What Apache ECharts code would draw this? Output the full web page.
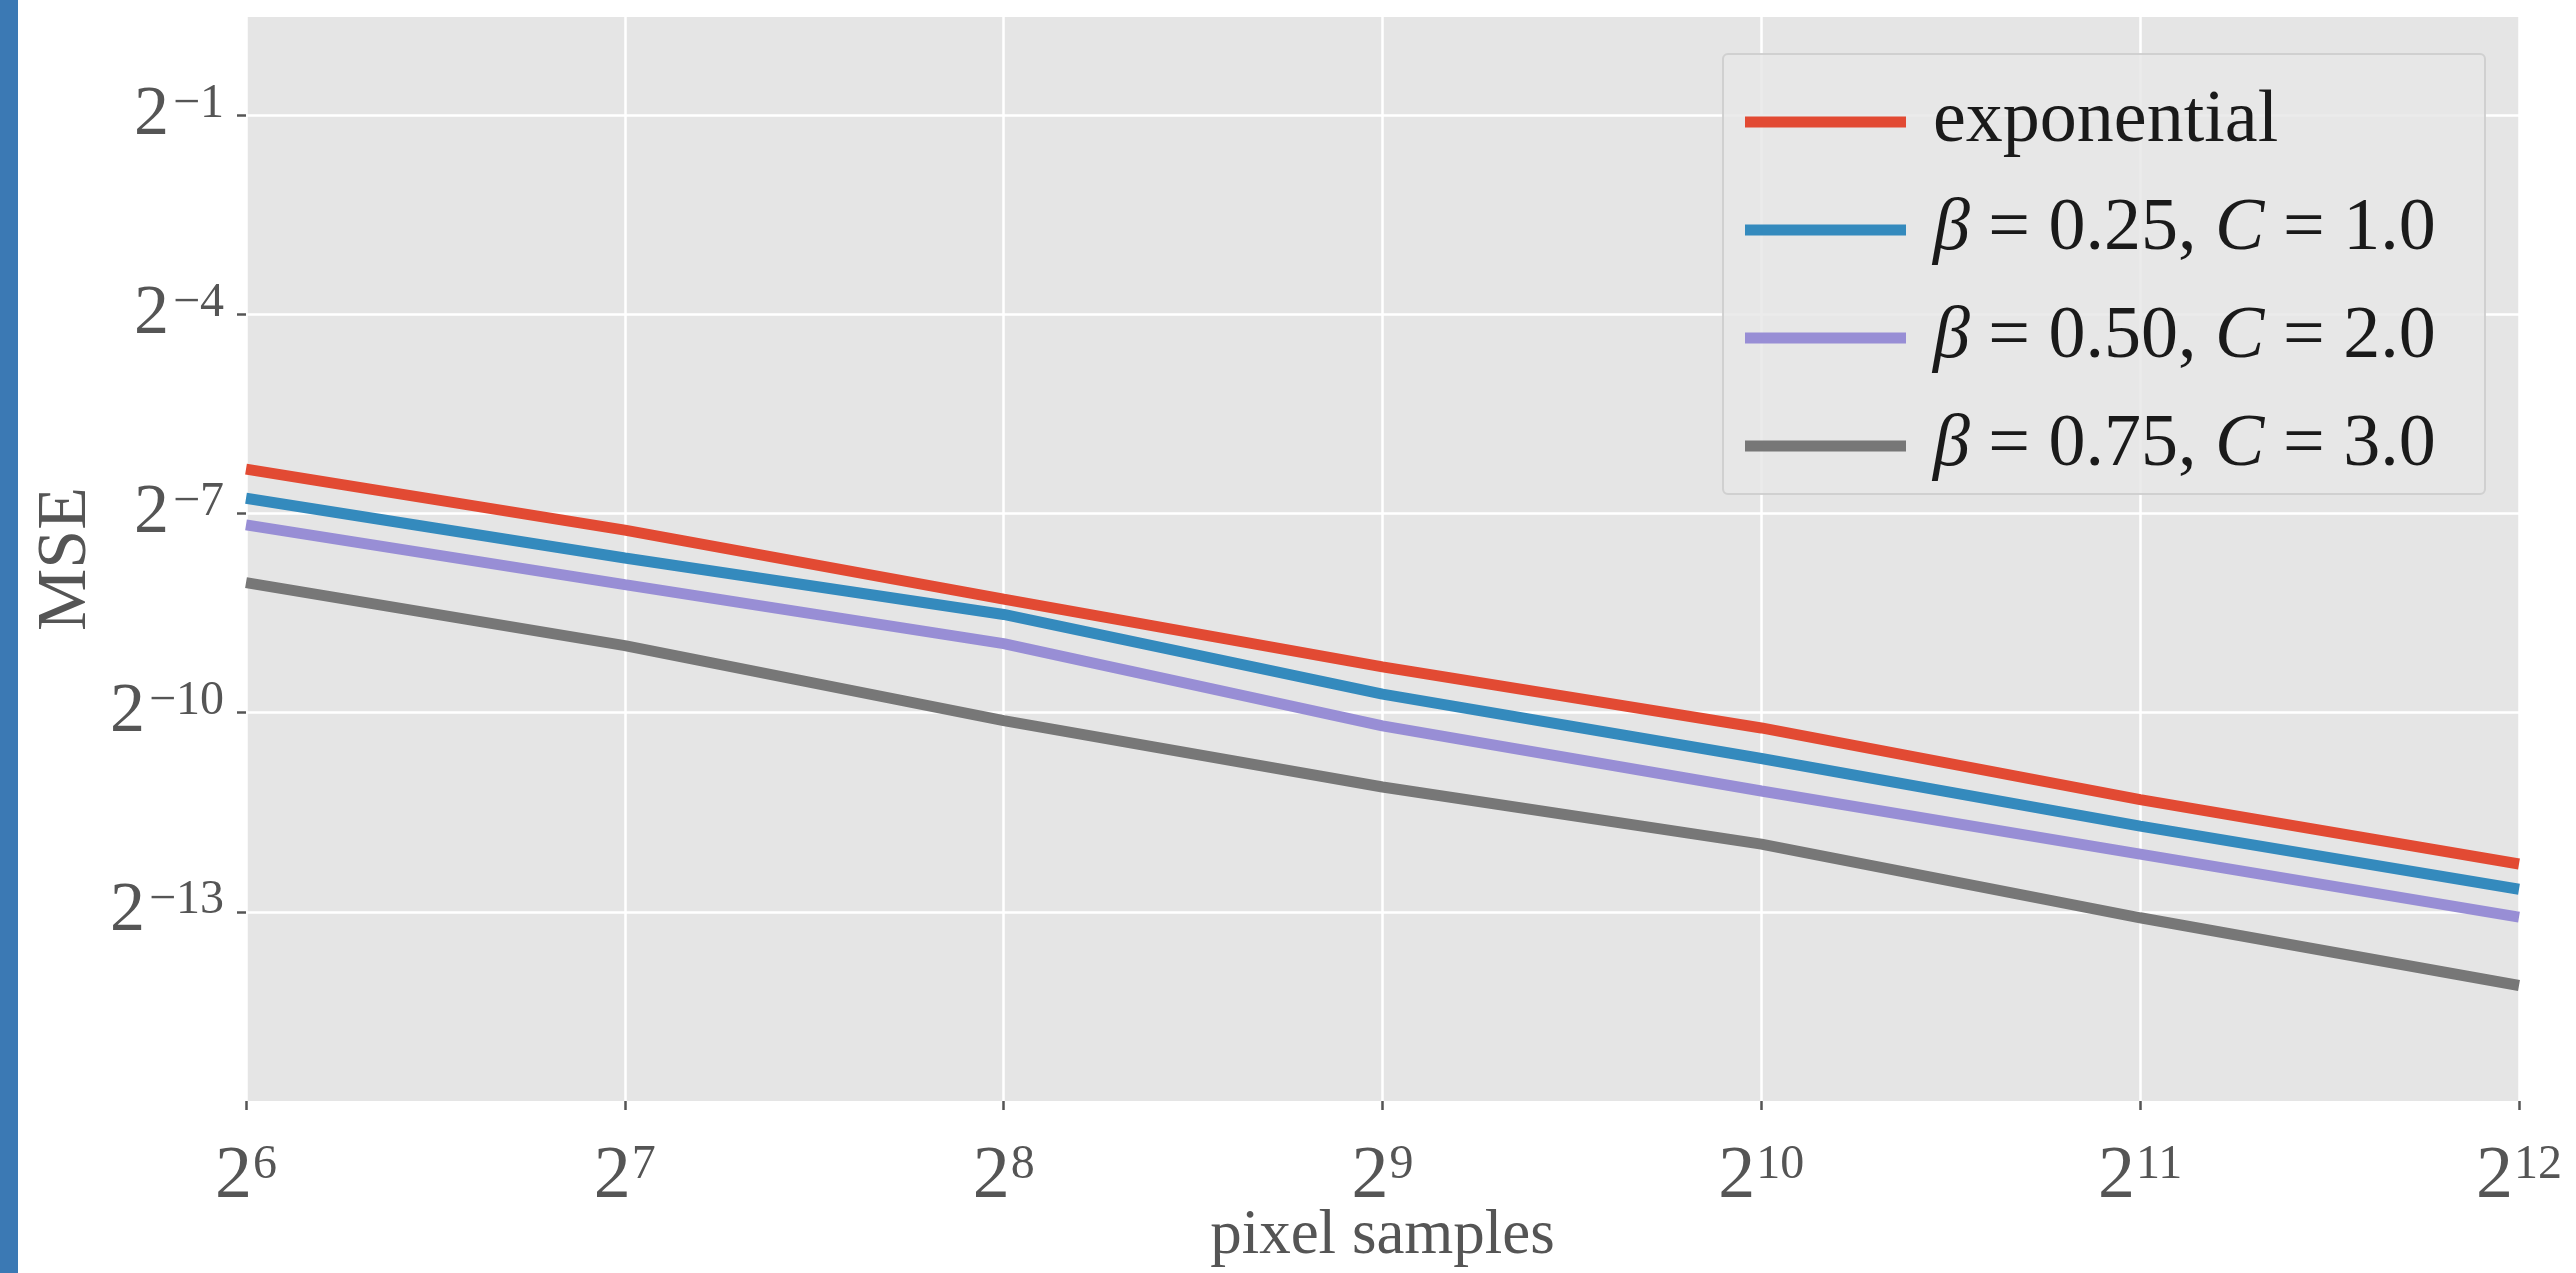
<!DOCTYPE html>
<html>
<head>
<meta charset="utf-8">
<style>
html,body{margin:0;padding:0;background:#ffffff;}
#chart{width:2576px;height:1273px;}
</style>
<script src="https://cdn.jsdelivr.net/npm/echarts@6/dist/echarts.min.js"></script>
</head>
<body>
<div id="chart"></div>
<script>
// ---- data ----
const pixelSamples = [64, 128, 256, 512, 1024, 2048, 4096];
const seriesNames = ['exponential', 'β = 0.25, C = 1.0', 'β = 0.50, C = 2.0', 'β = 0.75, C = 3.0'];
const mseExponential = [0.012430, 0.006570, 0.003195, 0.0015754, 0.0008326, 0.0003939, 0.0002011];
const mseBeta025 = [0.009163, 0.004910, 0.002723, 0.0011857, 0.0006054, 0.0002985, 0.0001545];
const mseBeta050 = [0.006944, 0.003721, 0.002008, 0.0008502, 0.0004310, 0.0002231, 0.0001155];
const mseBeta075 = [0.003800, 0.001967, 0.0008986, 0.0004493, 0.0002476, 0.0001147, 0.00005655];
const xTickExponents = [6, 7, 8, 9, 10, 11, 12];
const yTickExponents = [-13, -10, -7, -4, -1];
const xAxisTitle = 'pixel samples';
const yAxisTitle = 'MSE';

const colors = ['#E24A33', '#348ABD', '#988ED5', '#777777'];
const FONT = "'Liberation Serif', 'DejaVu Serif', serif";
const LABEL = '#555555';

function sup(v) {
  const s = v < 0 ? '\u2212' + Math.abs(v) : String(v);
  return '{b|2}{s|' + s + '}';
}
const richY = {
  b: { fontFamily: FONT, fontSize: 70, color: LABEL, verticalAlign: 'bottom', lineHeight: 70 },
  s: { fontFamily: FONT, fontSize: 48, color: LABEL, verticalAlign: 'top', lineHeight: 48, padding: [0, 0, 30, 4] }
};
const richX = {
  b: { fontFamily: FONT, fontSize: 74, color: LABEL, verticalAlign: 'bottom', lineHeight: 74 },
  s: { fontFamily: FONT, fontSize: 48, color: LABEL, verticalAlign: 'top', lineHeight: 48, padding: [0, 0, 32, 1] }
};

const allSeries = [mseExponential, mseBeta025, mseBeta050, mseBeta075];
const series = allSeries.map((vals, i) => ({
  name: seriesNames[i],
  type: 'line',
  data: pixelSamples.map((x, j) => [Math.log2(x), Math.log2(vals[j])]),
  symbol: 'none',
  lineStyle: { color: colors[i], width: 11, cap: 'butt' },
  itemStyle: { color: colors[i] },
  z: 3,
  animation: false
}));

const chart = echarts.init(document.getElementById('chart'), null, { renderer: 'canvas' });
chart.setOption({
  backgroundColor: '#ffffff',
  animation: false,
  color: colors,
  grid: {
    left: 246, right: 57, top: 17, bottom: 172,
    show: true, backgroundColor: '#e5e5e5', borderWidth: 0, containLabel: false,
    outerBoundsMode: 'none'
  },
  graphic: [
    { type: 'rect', left: 0, top: 0, shape: { width: 18, height: 1273 }, style: { fill: '#3b79b4' }, z: 0 },
    { type: 'rect', left: 1722, top: 53, shape: { width: 762, height: 440, r: 5 },
      style: { fill: 'rgba(232,232,232,0.85)', stroke: 'rgba(205,205,205,0.9)', lineWidth: 2 }, z: 50 }
  ],
  legend: {
    data: seriesNames,
    orient: 'vertical',
    left: 1740, top: 80,
    itemWidth: 161, itemHeight: 11, itemGap: 34,
    icon: 'rect',
    z: 60,
    textStyle: {
      fontFamily: FONT, fontSize: 74, color: '#1a1a1a', lineHeight: 70, padding: [0, 0, 0, 22],
      rich: {
        n: { fontFamily: FONT, fontSize: 74, color: '#1a1a1a', lineHeight: 70 },
        i: { fontFamily: FONT, fontSize: 74, fontStyle: 'italic', color: '#1a1a1a', lineHeight: 70 }
      }
    },
    formatter: function (name) {
      if (name.indexOf('β') === 0) {
        const parts = name.split(', C');
        return '{i|β}{n|' + parts[0].slice(1) + ', }{i|C}{n|' + parts[1] + '}';
      }
      return '{n|' + name + '}';
    }
  },
  xAxis: {
    type: 'value',
    min: 6, max: 12, interval: 1,
    name: xAxisTitle, nameLocation: 'middle', nameGap: 104, nameMoveOverlap: false,
    nameTextStyle: { fontFamily: FONT, fontSize: 63, color: LABEL },
    axisLine: { show: false, onZero: false },
    axisTick: { show: true, length: 9, lineStyle: { color: LABEL, width: 2.5 } },
    axisLabel: { margin: 40, formatter: v => sup(v), rich: richX },
    splitLine: { show: true, lineStyle: { color: '#ffffff', width: 2.5 } }
  },
  yAxis: {
    type: 'value',
    min: -15.85, max: 0.48,
    name: yAxisTitle, nameLocation: 'middle', nameGap: 144, nameRotate: 90, nameMoveOverlap: false,
    nameTextStyle: { fontFamily: FONT, fontSize: 70, color: LABEL },
    axisLine: { show: false, onZero: false },
    axisTick: { show: true, length: 9, customValues: yTickExponents, lineStyle: { color: LABEL, width: 2.5 } },
    axisLabel: { margin: 22, customValues: yTickExponents, formatter: v => sup(v), rich: richY },
    splitLine: { show: true, lineStyle: { color: '#ffffff', width: 2.5 } }
  },
  series: series
});
</script>
</body>
</html>
